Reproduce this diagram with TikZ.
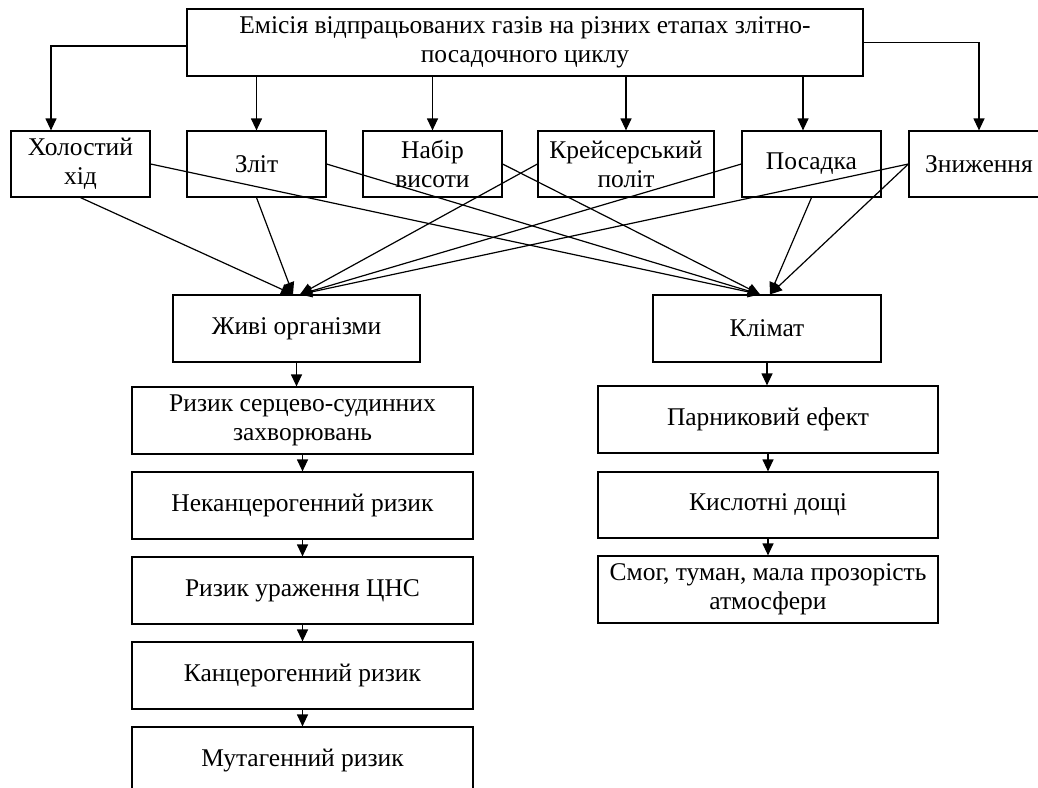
\documentclass[tikz,border=0pt]{standalone}
\usepackage{fontspec}
\setmainfont{Liberation Serif}
\usetikzlibrary{arrows.meta}
\begin{document}
\begin{tikzpicture}[x=1pt,y=-1pt,
  box/.style={draw,line width=1.2pt,inner sep=0pt,align=center,
    font=\fontsize{25.5}{29}\selectfont},
  conn/.style={line width=1.2pt,-{Triangle[length=12pt,width=11pt]}}]
\clip (0,0) rectangle (1038,787);
\fill[white] (0,0) rectangle (1038,787);
% top
\node[box,minimum width=676pt,minimum height=67pt] (top) at (525,42.5)
  {Емісія відпрацьованих газів на різних етапах злітно-\\посадочного циклу};
% stages
\node[box,minimum width=139pt,minimum height=66pt] (hol) at (80.5,164) {Холостий\\хід};
\node[box,minimum width=139pt,minimum height=66pt] (zl) at (256.5,164) {Зліт};
\node[box,minimum width=139pt,minimum height=66pt] (nab) at (432.5,164) {Набір\\висоти};
\node[box,minimum width=176pt,minimum height=66pt] (kr) at (626,164) {Крейсерський\\політ};
\node[box,minimum width=139pt,minimum height=66pt] (pos) at (811.5,164) {Посадка};
\node[box,minimum width=140pt,minimum height=66pt] (zn) at (979,164) {Зниження};
% targets
\node[box,minimum width=247pt,minimum height=67pt] (zh) at (296.5,328.5) {Живі організми};
\node[box,minimum width=228pt,minimum height=67pt] (kl) at (767,328.5) {Клімат};
% left column
\node[box,minimum width=341pt,minimum height=67pt] (l1) at (302.5,420.5) {Ризик серцево-судинних\\захворювань};
\node[box,minimum width=341pt,minimum height=67pt] (l2) at (302.5,505.5) {Неканцерогенний ризик};
\node[box,minimum width=341pt,minimum height=67pt] (l3) at (302.5,590.5) {Ризик ураження ЦНС};
\node[box,minimum width=341pt,minimum height=67pt] (l4) at (302.5,675.5) {Канцерогенний ризик};
\node[box,minimum width=341pt,minimum height=67pt] (l5) at (302.5,760.5) {Мутагенний ризик};
% right column
\node[box,minimum width=340pt,minimum height=67pt] (r1) at (768,419.5) {Парниковий ефект};
\node[box,minimum width=340pt,minimum height=66pt] (r2) at (768,505) {Кислотні дощі};
\node[box,minimum width=340pt,minimum height=67pt] (r3) at (768,589.5) {Смог, туман, мала прозорість\\атмосфери};
% top arrows
\coordinate (hc) at ([xshift=-29.5pt]hol.north);
\draw[conn] ([yshift=-3.5pt]top.west) -| (hc);
\draw[conn] (top.east) -| (zn.north);
\draw[conn] (zl.north |- top.south) -- (zl.north);
\draw[conn] (nab.north |- top.south) -- (nab.north);
\draw[conn] (kr.north |- top.south) -- (kr.north);
\coordinate (pc) at ([xshift=-8.5pt]pos.north);
\draw[conn] (pc |- top.south) -- (pc);
% crossing connectors
\coordinate (zhL) at ([xshift=-3.5pt]zh.north);
\coordinate (zhR) at ([xshift=3.5pt]zh.north);
\coordinate (klL) at ([xshift=-7pt]kl.north);
\coordinate (klR) at ([xshift=3pt]kl.north);
\draw[conn] (hol.east) -- (klL);
\draw[conn] (hol.south) -- (zhL);
\draw[conn] (zl.east) -- (klL);
\draw[conn] (zl.south) -- (zhL);
\draw[conn] (nab.east) -- (klL);
\draw[conn] (kr.west) -- (zhR);
\draw[conn] (pos.west) -- (zhR);
\draw[conn] (pos.south) -- (klR);
\draw[conn] (zn.west) -- (zhR);
\draw[conn] (zn.west) -- (klR);
% columns
\draw[conn] (zh.south) -- (zh.south |- l1.north);
\draw[conn] (l1.south) -- (l2.north);
\draw[conn] (l2.south) -- (l3.north);
\draw[conn] (l3.south) -- (l4.north);
\draw[conn] (l4.south) -- (l5.north);
\draw[conn] (kl.south) -- (kl.south |- r1.north);
\draw[conn] (r1.south) -- (r2.north);
\draw[conn] (r2.south) -- (r3.north);
\end{tikzpicture}
\end{document}
